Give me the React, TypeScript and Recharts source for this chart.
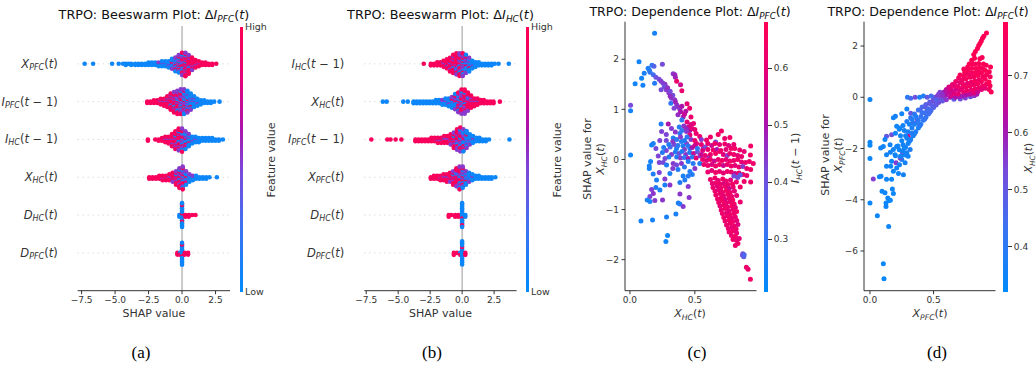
import React from "react";
import { ScatterChart, Scatter, XAxis, YAxis, CartesianGrid } from "recharts";

const FONT = "'DejaVu Sans', sans-serif";
const INK = "#333";

// shap red_blue colour map, low -> high
const CMAP_STOPS: [number, number, number, number][] = [
  [0, 0, 139, 251],
  [0.25, 62, 113, 240],
  [0.45, 120, 74, 218],
  [0.62, 172, 18, 172],
  [0.8, 226, 0, 122],
  [1, 255, 0, 82],
];

function cmap(t: number) {
  const u = Math.max(0, Math.min(1, t));
  for (let i = 1; i < CMAP_STOPS.length; i++) {
    const [p1, r1, g1, b1] = CMAP_STOPS[i];
    const [p0, r0, g0, b0] = CMAP_STOPS[i - 1];
    if (u <= p1) {
      const f = (u - p0) / (p1 - p0);
      return `rgb(${Math.round(r0 + (r1 - r0) * f)},${Math.round(g0 + (g1 - g0) * f)},${Math.round(b0 + (b1 - b0) * f)})`;
    }
  }
  return "rgb(255,0,82)";
}
const GRADIENT = `linear-gradient(to top, ${CMAP_STOPS.map(([p, r, g, b]) => `rgb(${r},${g},${b}) ${p * 100}%`).join(", ")})`;

/* ---------- data ---------- */

type Lab = [string, string, string]; // symbol, subscript, argument
type Bin = [number, number, number, number]; // shap value, n low, n mid, n high feature value

const ROWS_A: Lab[] = [["X", "PFC", "t"], ["I", "PFC", "t-1"], ["I", "HC", "t-1"], ["X", "HC", "t"], ["D", "HC", "t"], ["D", "PFC", "t"]];
const ROWS_B: Lab[] = [["I", "HC", "t-1"], ["X", "HC", "t"], ["I", "PFC", "t-1"], ["X", "PFC", "t"], ["D", "HC", "t"], ["D", "PFC", "t"]];

const A_XPFC: Bin[] = [
  [-7.27, 1, 0, 0], [-6.64, 1, 0, 0], [-5.22, 1, 0, 0], [-4.73, 1, 0, 0], [-4.4, 1, 0, 0], [-4.2, 2, 0, 0], [-4.0, 1, 0, 0],
  [-3.8, 2, 0, 0], [-3.5, 2, 0, 0], [-3.25, 2, 0, 0], [-3.0, 2, 0, 0], [-2.75, 2, 0, 0], [-2.5, 3, 0, 0], [-2.25, 3, 0, 0],
  [-2.0, 3, 0, 0], [-1.75, 3, 1, 0], [-1.5, 4, 1, 0], [-1.25, 4, 1, 0], [-1.0, 5, 1, 0], [-0.75, 6, 2, 1], [-0.5, 6, 4, 2],
  [-0.25, 5, 6, 4], [0.0, 4, 7, 8], [0.25, 2, 6, 12], [0.5, 1, 4, 11], [0.75, 0, 3, 8], [1.0, 0, 1, 6], [1.25, 0, 1, 4],
  [1.5, 0, 0, 3], [1.75, 0, 0, 3], [2.0, 0, 0, 2], [2.25, 0, 0, 2], [2.55, 0, 0, 1],
];
const A_IPFC: Bin[] = [
  [-2.6, 0, 0, 2], [-2.35, 0, 0, 2], [-2.1, 0, 0, 3], [-1.85, 0, 0, 3], [-1.6, 0, 1, 4], [-1.35, 0, 1, 5], [-1.1, 0, 2, 7],
  [-0.85, 1, 3, 9], [-0.6, 1, 5, 10], [-0.35, 2, 7, 9], [-0.1, 4, 8, 7], [0.15, 7, 8, 4], [0.4, 9, 6, 2], [0.65, 9, 3, 1],
  [0.9, 7, 2, 0], [1.15, 5, 1, 0], [1.4, 4, 0, 0], [1.65, 3, 0, 0], [1.9, 2, 0, 0], [2.15, 2, 0, 0], [2.4, 1, 0, 0], [2.8, 1, 0, 0],
];
const A_IHC: Bin[] = [
  [-2.55, 0, 0, 2], [-2.0, 0, 0, 1], [-1.75, 0, 0, 2], [-1.5, 0, 0, 3], [-1.25, 0, 1, 4], [-1.0, 0, 1, 5], [-0.75, 0, 2, 8],
  [-0.5, 1, 3, 10], [-0.25, 2, 5, 10], [0.0, 4, 7, 7], [0.25, 6, 5, 3], [0.5, 6, 3, 1], [0.75, 5, 1, 0], [1.0, 4, 1, 0],
  [1.25, 4, 0, 0], [1.5, 3, 0, 0], [1.75, 3, 0, 0], [2.0, 3, 0, 0], [2.25, 3, 0, 0], [2.5, 2, 0, 0], [2.75, 2, 0, 0], [3.05, 1, 0, 0],
];
const A_XHC: Bin[] = [
  [-2.45, 0, 0, 2], [-2.2, 0, 0, 2], [-1.95, 0, 0, 2], [-1.7, 0, 0, 3], [-1.45, 0, 1, 3], [-1.2, 0, 1, 3], [-0.95, 0, 1, 4],
  [-0.7, 0, 2, 5], [-0.45, 1, 3, 6], [-0.2, 2, 5, 7], [0.05, 4, 6, 6], [0.3, 5, 3, 2], [0.55, 4, 2, 0], [0.8, 3, 1, 0],
  [1.05, 3, 0, 0], [1.3, 2, 0, 0], [1.55, 2, 0, 0], [1.8, 2, 0, 0], [2.05, 1, 0, 0], [2.6, 1, 0, 0],
];
const A_DHC: Bin[] = [[-0.2, 2, 0, 0], [0.0, 12, 0, 3], [0.25, 0, 0, 2], [0.5, 0, 0, 2], [0.75, 0, 0, 1], [1.0, 0, 0, 1]];
const A_DPFC: Bin[] = [[-0.35, 0, 0, 2], [-0.15, 1, 0, 1], [0.0, 12, 0, 2], [0.2, 0, 0, 2], [0.45, 0, 0, 2]];

const B_IHC: Bin[] = [
  [-3.0, 0, 0, 1], [-2.45, 0, 0, 2], [-2.2, 0, 0, 2], [-1.95, 0, 0, 3], [-1.7, 0, 0, 3], [-1.45, 0, 1, 4], [-1.2, 0, 1, 6],
  [-0.95, 0, 2, 8], [-0.7, 1, 3, 9], [-0.45, 1, 4, 10], [-0.2, 2, 6, 8], [0.05, 4, 7, 5], [0.3, 6, 5, 2], [0.55, 6, 3, 1],
  [0.8, 5, 1, 0], [1.05, 4, 0, 0], [1.3, 3, 0, 0], [1.55, 2, 0, 0], [1.8, 2, 0, 0], [2.05, 2, 0, 0], [2.3, 2, 0, 0],
  [2.55, 1, 0, 0], [2.85, 1, 0, 0], [3.65, 1, 0, 0],
];
const B_XHC: Bin[] = [
  [-6.2, 1, 0, 0], [-5.9, 1, 0, 0], [-4.6, 1, 0, 0], [-4.25, 1, 0, 0], [-3.8, 2, 0, 0], [-3.55, 2, 0, 0], [-3.3, 2, 0, 0],
  [-3.05, 2, 0, 0], [-2.8, 2, 0, 0], [-2.55, 2, 0, 0], [-2.3, 2, 0, 0], [-2.05, 3, 0, 0], [-1.8, 3, 0, 0], [-1.55, 3, 1, 0],
  [-1.3, 4, 1, 0], [-1.05, 5, 1, 0], [-0.8, 5, 2, 1], [-0.55, 5, 4, 2], [-0.3, 4, 6, 4], [-0.05, 3, 7, 7], [0.2, 2, 6, 9],
  [0.45, 1, 4, 8], [0.7, 0, 2, 7], [0.95, 0, 1, 5], [1.2, 0, 1, 4], [1.45, 0, 0, 3], [1.7, 0, 0, 3], [1.95, 0, 0, 2],
  [2.2, 0, 0, 2], [2.45, 0, 0, 2], [2.95, 0, 0, 1],
];
const B_IPFC: Bin[] = [
  [-7.1, 0, 0, 1], [-5.85, 0, 0, 1], [-5.6, 0, 0, 1], [-5.2, 0, 0, 1], [-4.75, 0, 0, 1], [-3.65, 0, 0, 2], [-3.4, 0, 0, 2],
  [-3.15, 0, 0, 2], [-2.9, 0, 0, 2], [-2.65, 0, 0, 2], [-2.4, 0, 0, 3], [-2.15, 0, 0, 3], [-1.9, 0, 1, 3], [-1.65, 0, 1, 3],
  [-1.4, 0, 1, 4], [-1.15, 0, 1, 4], [-0.9, 0, 2, 5], [-0.65, 1, 3, 6], [-0.4, 1, 5, 7], [-0.15, 3, 6, 6], [0.1, 6, 5, 3],
  [0.35, 7, 3, 1], [0.6, 5, 2, 0], [0.85, 4, 1, 0], [1.1, 3, 0, 0], [1.35, 3, 0, 0], [1.6, 2, 0, 0], [1.85, 2, 0, 0],
  [2.1, 1, 0, 0], [3.7, 1, 0, 0],
];
const B_XPFC: Bin[] = [
  [-2.45, 0, 0, 2], [-2.2, 0, 0, 3], [-1.95, 0, 0, 3], [-1.7, 0, 1, 3], [-1.45, 0, 1, 4], [-1.2, 0, 1, 5], [-0.95, 0, 2, 5],
  [-0.7, 1, 3, 6], [-0.45, 1, 4, 8], [-0.2, 3, 6, 7], [0.05, 5, 6, 4], [0.3, 6, 3, 1], [0.55, 5, 2, 0], [0.8, 4, 1, 0],
  [1.05, 3, 0, 0], [1.3, 3, 0, 0], [1.55, 2, 0, 0], [1.8, 2, 0, 0], [2.05, 2, 0, 0], [2.3, 2, 0, 0], [2.6, 1, 0, 0],
];
const B_DHC: Bin[] = [[-1.05, 0, 0, 2], [-0.85, 0, 0, 1], [-0.55, 0, 0, 2], [-0.3, 0, 0, 2], [0.0, 13, 0, 2], [0.25, 2, 0, 0]];
const B_DPFC: Bin[] = [[-0.65, 0, 0, 2], [-0.4, 0, 0, 1], [-0.15, 1, 0, 1], [0.0, 12, 0, 1], [0.25, 0, 0, 2]];

const SWARM_A = [A_XPFC, A_IPFC, A_IHC, A_XHC, A_DHC, A_DPFC];
const SWARM_B = [B_IHC, B_XHC, B_IPFC, B_XPFC, B_DHC, B_DPFC];

// (c) x = X_HC(t), y = SHAP value, v = I_HC(t-1)
const C_POINTS: [number, number, number][] = [
  [0.19, 2.52, 0.25], [0.07, 1.95, 0.24], [0.04, 1.51, 0.24], [0.1, 1.48, 0.25], [0.09, 1.62, 0.24], [0.11, 1.72, 0.26],
  [0.14, 1.82, 0.27], [0.15, 1.78, 0.26], [0.17, 1.88, 0.3], [0.185, 1.86, 0.36], [0.25, 1.9, 0.42], [0.155, 1.74, 0.3],
  [0.18, 1.69, 0.33], [0.2, 1.64, 0.4], [0.225, 1.6, 0.42], [0.19, 1.52, 0.28], [0.255, 1.52, 0.42], [0.24, 1.56, 0.44],
  [0.27, 1.5, 0.45], [0.333, 1.71, 0.45], [0.346, 1.69, 0.47], [0.35, 1.64, 0.48], [0.36, 1.56, 0.62], [0.39, 1.49, 0.55],
  [0.24, 1.39, 0.42], [0.265, 1.45, 0.4], [0.28, 1.39, 0.44], [0.29, 1.43, 0.46], [0.3, 1.33, 0.45], [0.31, 1.36, 0.42],
  [0.4, 1.37, 0.62], [0.32, 1.22, 0.44], [0.33, 1.28, 0.42], [0.31, 1.26, 0.46], [0.345, 1.19, 0.45], [0.36, 1.09, 0.45],
  [0.315, 1.12, 0.3], [0.35, 1.15, 0.48], [0.37, 1.05, 0.46], [0.34, 1.02, 0.43], [0.44, 1.11, 0.6], [0.385, 1.0, 0.45],
  [0.46, 1.02, 0.62], [0.4, 1.06, 0.5], [0.005, 1.08, 0.42], [0.005, 0.97, 0.25], [0.37, 0.89, 0.46], [0.39, 0.95, 0.5],
  [0.41, 0.85, 0.48], [0.42, 0.9, 0.55], [0.43, 0.96, 0.52], [0.47, 0.85, 0.62], [0.44, 0.75, 0.6], [0.4, 0.79, 0.3],
  [0.38, 0.65, 0.28], [0.415, 0.67, 0.45], [0.49, 0.72, 0.62], [0.5, 0.6, 0.62], [0.45, 0.65, 0.55], [0.51, 0.52, 0.62],
  [0.46, 0.58, 0.5], [0.43, 0.62, 0.47], [0.47, 0.7, 0.58], [0.48, 0.62, 0.6],
  [0.24, 0.71, 0.28], [0.295, 0.71, 0.5], [0.32, 0.62, 0.44], [0.244, 0.56, 0.43], [0.385, 0.52, 0.28], [0.436, 0.56, 0.45],
  [0.462, 0.49, 0.6], [0.538, 0.46, 0.62], [0.23, 0.38, 0.43], [0.28, 0.38, 0.42], [0.333, 0.43, 0.27], [0.397, 0.36, 0.27],
  [0.436, 0.32, 0.44], [0.513, 0.32, 0.6], [0.59, 0.39, 0.63], [0.167, 0.29, 0.25], [0.18, 0.32, 0.26], [0.31, 0.25, 0.35],
  [0.359, 0.22, 0.26], [0.462, 0.22, 0.27], [0.564, 0.22, 0.45], [0.218, 0.07, 0.43], [0.005, 0.09, 0.24], [0.3, 0.3, 0.27],
  [0.34, 0.3, 0.42], [0.37, 0.28, 0.3], [0.41, 0.27, 0.26], [0.42, 0.2, 0.44], [0.45, 0.27, 0.29], [0.48, 0.24, 0.5],
  [0.5, 0.28, 0.55], [0.35, 0.15, 0.27], [0.38, 0.12, 0.42], [0.4, 0.16, 0.27], [0.43, 0.1, 0.45], [0.46, 0.14, 0.28],
  [0.49, 0.12, 0.55], [0.52, 0.15, 0.4], [0.28, 0.18, 0.43], [0.26, 0.24, 0.27], [0.32, 0.1, 0.44], [0.3, 0.05, 0.27],
  [0.27, 0.02, 0.42], [0.36, 0.05, 0.28], [0.39, 0.03, 0.44], [0.42, 0.04, 0.3], [0.45, 0.02, 0.5], [0.48, 0.05, 0.28],
  [0.51, 0.03, 0.6], [0.54, 0.07, 0.45], [0.33, 0.36, 0.45], [0.36, 0.4, 0.3], [0.39, 0.45, 0.44], [0.42, 0.38, 0.27],
  [0.47, 0.4, 0.45], [0.5, 0.38, 0.62], [0.2, 0.22, 0.42], [0.25, 0.14, 0.28], [0.44, 0.45, 0.3], [0.28, 0.5, 0.43],
  [0.4, 0.58, 0.3], [0.35, 0.55, 0.45], [0.52, 0.22, 0.3], [0.55, 0.4, 0.45], [0.58, 0.25, 0.42], [0.61, 0.05, 0.45],
  [0.66, 0.35, 0.42],
  [0.159, -0.04, 0.25], [0.149, -0.13, 0.25], [0.149, -0.18, 0.25], [0.179, -0.29, 0.27], [0.226, -0.06, 0.43],
  [0.256, -0.06, 0.42], [0.282, -0.11, 0.27], [0.333, -0.08, 0.44], [0.359, -0.11, 0.42], [0.397, -0.08, 0.45],
  [0.449, -0.04, 0.27], [0.487, -0.08, 0.28], [0.538, -0.08, 0.27], [0.226, -0.26, 0.43], [0.308, -0.28, 0.26],
  [0.269, -0.39, 0.44], [0.205, -0.41, 0.26], [0.2, -0.56, 0.27], [0.167, -0.6, 0.44], [0.231, -0.61, 0.26],
  [0.269, -0.51, 0.26], [0.308, -0.51, 0.45], [0.385, -0.46, 0.27], [0.423, -0.41, 0.27], [0.449, -0.33, 0.28],
  [0.462, -0.24, 0.27], [0.41, -0.33, 0.26], [0.449, -0.54, 0.44], [0.385, -0.69, 0.45], [0.456, -0.76, 0.45],
  [0.18, -0.68, 0.45], [0.154, -0.74, 0.43], [0.133, -0.81, 0.26], [0.154, -0.84, 0.25], [0.192, -0.82, 0.44],
  [0.251, -0.81, 0.45], [0.372, -0.87, 0.26], [0.385, -0.89, 0.27], [0.41, -0.94, 0.44], [0.354, -1.09, 0.26],
  [0.282, -1.15, 0.26], [0.085, -1.23, 0.25], [0.174, -1.21, 0.25], [0.29, -1.52, 0.24], [0.277, -1.64, 0.24],
  [0.37, -0.2, 0.27], [0.33, -0.18, 0.44], [0.42, -0.15, 0.3], [0.5, -0.18, 0.45], [0.48, -0.3, 0.27],
  [0.62, 0.45, 0.63], [0.68, 0.5, 0.64], [0.705, 0.57, 0.63], [0.73, 0.42, 0.62], [0.77, 0.44, 0.64],
  [0.55, 0.3, 0.6], [0.6, 0.32, 0.62], [0.63, 0.28, 0.55], [0.654, 0.32, 0.63], [0.69, 0.3, 0.6], [0.731, 0.31, 0.63],
  [0.76, 0.28, 0.58], [0.8, 0.3, 0.62], [0.93, 0.27, 0.64],
  [0.56, 0.18, 0.58], [0.6, 0.2, 0.62], [0.641, 0.19, 0.64], [0.67, 0.2, 0.5], [0.7, 0.18, 0.62], [0.74, 0.2, 0.6],
  [0.78, 0.22, 0.63], [0.808, 0.22, 0.64], [0.846, 0.19, 0.63], [0.88, 0.16, 0.6],
  [0.55, 0.1, 0.55], [0.58, 0.08, 0.6], [0.62, 0.1, 0.62], [0.66, 0.12, 0.64], [0.692, 0.16, 0.63], [0.72, 0.1, 0.6],
  [0.75, 0.08, 0.45], [0.769, 0.12, 0.62], [0.8, 0.1, 0.63], [0.83, 0.08, 0.6], [0.86, 0.06, 0.62], [0.928, 0.09, 0.64],
  [0.56, 0.0, 0.62], [0.59, -0.02, 0.6], [0.62, 0.0, 0.63], [0.65, -0.03, 0.55], [0.68, 0.0, 0.62], [0.71, -0.02, 0.64],
  [0.74, 0.0, 0.6], [0.77, -0.03, 0.63], [0.8, -0.02, 0.62], [0.83, 0.0, 0.64], [0.86, -0.05, 0.6], [0.89, -0.06, 0.62],
  [0.92, -0.04, 0.63], [0.95, -0.08, 0.62],
  [0.57, -0.1, 0.62], [0.6, -0.12, 0.63], [0.63, -0.1, 0.58], [0.66, -0.13, 0.62], [0.69, -0.1, 0.64], [0.72, -0.12, 0.55],
  [0.75, -0.1, 0.62], [0.78, -0.13, 0.63], [0.81, -0.12, 0.6], [0.84, -0.15, 0.62], [0.87, -0.14, 0.45], [0.9, -0.18, 0.62],
  [0.93, -0.2, 0.63],
  [0.6, -0.25, 0.62], [0.63, -0.22, 0.6], [0.66, -0.26, 0.64], [0.69, -0.24, 0.62], [0.72, -0.27, 0.6], [0.75, -0.24, 0.63],
  [0.78, -0.25, 0.62], [0.81, -0.28, 0.55], [0.84, -0.27, 0.62], [0.87, -0.3, 0.63], [0.9, -0.32, 0.62],
  [0.8, -0.33, 0.42], [0.83, -0.36, 0.4], [0.85, -0.31, 0.38], [0.93, -0.45, 0.62],
  [0.62, -0.4, 0.62], [0.655, -0.37, 0.63], [0.68, -0.42, 0.6], [0.715, -0.39, 0.64], [0.74, -0.43, 0.62], [0.775, -0.41, 0.6],
  [0.82, -0.45, 0.62], [0.88, -0.44, 0.63],
  [0.635, -0.48, 0.6], [0.662, -0.47, 0.62], [0.694, -0.49, 0.63], [0.722, -0.48, 0.58], [0.755, -0.5, 0.62], [0.79, -0.49, 0.64],
  [0.64, -0.56, 0.62], [0.674, -0.53, 0.6], [0.7, -0.57, 0.63], [0.735, -0.54, 0.62], [0.764, -0.58, 0.55], [0.795, -0.55, 0.62],
  [0.85, -0.55, 0.64],
  [0.655, -0.63, 0.62], [0.682, -0.61, 0.6], [0.714, -0.65, 0.63], [0.743, -0.62, 0.64], [0.772, -0.66, 0.62], [0.805, -0.63, 0.6],
  [0.662, -0.71, 0.63], [0.694, -0.68, 0.62], [0.72, -0.73, 0.6], [0.753, -0.7, 0.64], [0.784, -0.74, 0.62], [0.822, -0.72, 0.6],
  [0.675, -0.79, 0.62], [0.703, -0.77, 0.63], [0.732, -0.8, 0.58], [0.764, -0.78, 0.62], [0.792, -0.81, 0.64],
  [0.684, -0.86, 0.62], [0.713, -0.83, 0.64], [0.742, -0.87, 0.6], [0.774, -0.85, 0.62], [0.803, -0.89, 0.63], [0.85, -0.85, 0.62],
  [0.694, -0.93, 0.6], [0.724, -0.91, 0.63], [0.752, -0.95, 0.62], [0.785, -0.93, 0.64], [0.812, -0.96, 0.6],
  [0.703, -1.01, 0.62], [0.733, -0.98, 0.63], [0.762, -1.03, 0.6], [0.793, -1.0, 0.62], [0.822, -1.04, 0.64],
  [0.712, -1.08, 0.62], [0.744, -1.07, 0.6], [0.772, -1.1, 0.63], [0.803, -1.08, 0.62],
  [0.723, -1.16, 0.63], [0.752, -1.13, 0.62], [0.783, -1.17, 0.6], [0.812, -1.15, 0.62],
  [0.733, -1.23, 0.62], [0.764, -1.21, 0.64], [0.792, -1.24, 0.62], [0.823, -1.22, 0.6],
  [0.744, -1.31, 0.62], [0.773, -1.28, 0.63], [0.803, -1.33, 0.64], [0.832, -1.3, 0.58],
  [0.758, -1.38, 0.62], [0.788, -1.36, 0.6], [0.818, -1.39, 0.63],
  [0.764, -1.45, 0.62], [0.792, -1.43, 0.63], [0.822, -1.47, 0.6], [0.782, -1.52, 0.62], [0.812, -1.54, 0.64],
  [0.794, -1.6, 0.63], [0.822, -1.62, 0.62], [0.842, -1.58, 0.6], [0.812, -1.72, 0.62], [0.832, -1.68, 0.63],
  [0.867, -1.91, 0.4], [0.877, -1.94, 0.38], [0.87, -1.88, 0.42], [0.88, -1.9, 0.35],
  [0.897, -2.15, 0.63], [0.91, -2.19, 0.62], [0.928, -2.39, 0.64],
];

// (d) x = X_PFC(t), y = SHAP value, v = X_HC(t)
const D_POINTS: [number, number, number][] = [
  [0.0, -0.09, 0.35], [0.0, -1.76, 0.34], [0.0, -1.87, 0.34], [0.0, -2.39, 0.34], [0.0, -4.13, 0.34],
  [0.058, -4.62, 0.34], [0.105, -6.5, 0.34], [0.11, -7.08, 0.34], [0.147, -5.04, 0.35],
  [0.026, -3.19, 0.55], [0.074, -3.1, 0.35], [0.087, -3.08, 0.35], [0.095, -3.67, 0.34], [0.118, -3.73, 0.35],
  [0.176, -3.58, 0.35], [0.184, -3.76, 0.34], [0.14, -3.93, 0.35], [0.15, -4.03, 0.35], [0.16, -4.02, 0.34],
  [0.126, -4.13, 0.34], [0.126, -4.26, 0.35],
  [0.13, -3.2, 0.35], [0.17, -3.2, 0.34], [0.13, -2.24, 0.35], [0.16, -2.15, 0.36], [0.2, -2.28, 0.35], [0.17, -2.5, 0.34],
  [0.13, -2.69, 0.35], [0.163, -2.69, 0.35], [0.205, -2.56, 0.55], [0.21, -2.76, 0.35], [0.184, -2.89, 0.34],
  [0.224, -2.98, 0.35], [0.263, -3.02, 0.36], [0.232, -2.63, 0.36], [0.25, -2.43, 0.37], [0.276, -2.56, 0.36],
  [0.237, -2.37, 0.52], [0.263, -2.24, 0.38], [0.29, -2.17, 0.37], [0.316, -2.04, 0.38], [0.3, -2.3, 0.36],
  [0.184, -0.8, 0.35], [0.2, -0.74, 0.36], [0.25, -0.64, 0.35], [0.29, -0.46, 0.36], [0.32, -0.62, 0.5], [0.295, 0.0, 0.4],
  [0.32, -0.04, 0.45], [0.355, 0.0, 0.52], [0.39, 0.0, 0.37], [0.42, 0.05, 0.38], [0.45, 0.0, 0.5], [0.237, -1.2, 0.35],
  [0.21, -1.13, 0.35], [0.17, -1.46, 0.52], [0.13, -1.52, 0.5], [0.118, -1.65, 0.35], [0.105, -1.92, 0.35],
  [0.084, -1.98, 0.35], [0.158, -1.85, 0.35], [0.184, -2.04, 0.35], [0.21, -1.92, 0.36], [0.197, -2.24, 0.35],
  [0.255, -2.15, 0.5], [0.3, -1.52, 0.7], [0.34, -1.0, 0.5], [0.37, -0.87, 0.52], [0.33, -0.87, 0.36], [0.395, -0.5, 0.5],
  [0.43, -0.37, 0.52], [0.47, -0.24, 0.52], [0.5, -0.15, 0.55],
  [0.24, -2.3, 0.35], [0.26, -2.1, 0.35], [0.27, -1.98, 0.36], [0.28, -1.95, 0.35], [0.3, -1.8, 0.36], [0.31, -1.72, 0.35],
  [0.32, -1.65, 0.37], [0.34, -1.5, 0.36], [0.35, -1.42, 0.37], [0.36, -1.35, 0.38], [0.38, -1.2, 0.37], [0.39, -1.12, 0.38],
  [0.4, -1.05, 0.4], [0.42, -0.9, 0.4], [0.43, -0.85, 0.42], [0.44, -0.78, 0.42], [0.46, -0.65, 0.44], [0.47, -0.58, 0.45],
  [0.48, -0.52, 0.45], [0.5, -0.4, 0.47], [0.52, -0.3, 0.5], [0.54, -0.2, 0.52],
  [0.22, -1.9, 0.35], [0.25, -1.7, 0.35], [0.28, -1.5, 0.36], [0.3, -1.35, 0.37], [0.33, -1.2, 0.38], [0.35, -1.05, 0.37],
  [0.38, -0.9, 0.4], [0.4, -0.75, 0.42], [0.43, -0.6, 0.44], [0.46, -0.45, 0.46], [0.49, -0.32, 0.48], [0.52, -0.18, 0.5],
  [0.2, -1.4, 0.35], [0.23, -1.25, 0.35], [0.26, -1.1, 0.36], [0.29, -0.95, 0.38], [0.32, -0.8, 0.4], [0.35, -0.65, 0.42],
  [0.38, -0.5, 0.44], [0.41, -0.38, 0.46], [0.44, -0.28, 0.48], [0.47, -0.18, 0.5], [0.5, -0.08, 0.52],
  [0.27, -1.3, 0.36], [0.24, -1.5, 0.35], [0.29, -1.6, 0.36], [0.33, -1.4, 0.38], [0.37, -1.0, 0.4], [0.41, -0.6, 0.43],
  [0.45, -0.5, 0.45], [0.36, -0.75, 0.38], [0.31, -1.05, 0.36], [0.26, -1.85, 0.36], [0.23, -2.05, 0.35], [0.28, -2.25, 0.36],
  [0.5, 0.0, 0.5], [0.53, 0.05, 0.55], [0.55, -0.05, 0.52], [0.56, 0.1, 0.58], [0.58, 0.0, 0.56], [0.58, 0.2, 0.6],
  [0.6, 0.1, 0.62], [0.6, 0.3, 0.64], [0.62, 0.2, 0.66], [0.62, 0.4, 0.68], [0.64, 0.3, 0.68], [0.55, 0.2, 0.55],
  [0.57, -0.15, 0.5], [0.6, -0.1, 0.56], [0.63, 0.0, 0.6], [0.52, -0.1, 0.48], [0.48, 0.05, 0.45], [0.54, 0.12, 0.55],
  [0.57, 0.1, 0.57],
  [0.66, -0.08, 0.5], [0.71, -0.07, 0.52], [0.75, -0.03, 0.55], [0.79, 0.02, 0.52], [0.82, 0.06, 0.56], [0.84, 0.12, 0.6],
  [0.638, 0.05, 0.68], [0.646, 0.2, 0.66], [0.634, 0.35, 0.7], [0.648, 0.5, 0.72],
  [0.672, 0.0, 0.62], [0.664, 0.15, 0.7], [0.677, 0.3, 0.68], [0.667, 0.45, 0.72], [0.674, 0.62, 0.74],
  [0.702, 0.02, 0.6], [0.696, 0.13, 0.72], [0.706, 0.28, 0.7], [0.694, 0.42, 0.74], [0.707, 0.58, 0.72], [0.697, 0.75, 0.76], [0.708, 0.87, 0.78],
  [0.727, 0.05, 0.6], [0.736, 0.21, 0.74], [0.725, 0.35, 0.72], [0.734, 0.5, 0.75], [0.726, 0.66, 0.74], [0.737, 0.82, 0.76],
  [0.744, 0.97, 0.78], [0.738, 1.1, 0.78],
  [0.757, 0.1, 0.62], [0.764, 0.25, 0.74], [0.754, 0.4, 0.76], [0.766, 0.55, 0.72], [0.756, 0.72, 0.77], [0.765, 0.9, 0.76],
  [0.771, 1.06, 0.78], [0.768, 1.18, 0.77], [0.78, 1.3, 0.79],
  [0.787, 0.12, 0.65], [0.795, 0.28, 0.73], [0.786, 0.44, 0.76], [0.797, 0.6, 0.74], [0.788, 0.78, 0.77], [0.796, 0.95, 0.75],
  [0.8, 1.12, 0.78], [0.806, 1.28, 0.77], [0.8, 1.45, 0.79],
  [0.817, 0.17, 0.7], [0.826, 0.32, 0.76], [0.816, 0.48, 0.74], [0.825, 0.64, 0.77], [0.817, 0.8, 0.76], [0.826, 0.96, 0.78],
  [0.833, 1.12, 0.78], [0.828, 1.3, 0.78], [0.822, 1.52, 0.79], [0.816, 1.67, 0.79], [0.829, 1.79, 0.79],
  [0.847, 0.22, 0.66], [0.855, 0.36, 0.74], [0.846, 0.52, 0.77], [0.856, 0.68, 0.75], [0.848, 0.85, 0.78], [0.857, 1.0, 0.76],
  [0.862, 1.16, 0.79], [0.855, 1.32, 0.78], [0.864, 1.5, 0.79], [0.845, 1.9, 0.79], [0.855, 2.02, 0.79],
  [0.877, 0.3, 0.7], [0.885, 0.45, 0.75], [0.876, 0.62, 0.77], [0.886, 0.8, 0.76], [0.877, 0.95, 0.78], [0.886, 1.12, 0.77],
  [0.892, 1.3, 0.79], [0.882, 1.55, 0.78], [0.865, 2.1, 0.79], [0.875, 2.2, 0.79], [0.885, 2.3, 0.79],
  [0.907, 0.35, 0.72], [0.915, 0.52, 0.76], [0.906, 0.7, 0.78], [0.916, 0.88, 0.77], [0.907, 1.05, 0.79], [0.914, 1.25, 0.78],
  [0.895, 2.38, 0.79], [0.916, 2.51, 0.79],
  [0.937, 0.3, 0.76], [0.944, 0.45, 0.78], [0.936, 0.6, 0.79], [0.945, 0.8, 0.77], [0.938, 1.0, 0.78], [0.948, 1.18, 0.79],
  [0.953, 0.21, 0.79],
];

const BEE_TICKS = [-7.5, -5, -2.5, 0, 2.5];
const ROW_TICKS = [1, 2, 3, 4, 5, 6];
const C_YTICKS = [-2, -1, 0, 1, 2];
const D_YTICKS = [-6, -4, -2, 0, 2];
const DEP_XTICKS = [0, 0.5];
const C_CBAR_TICKS = [0.3, 0.4, 0.5, 0.6];
const D_CBAR_TICKS = [0.4, 0.5, 0.6, 0.7];

/* ---------- helpers ---------- */

// shap beeswarm stacking: points in a bin alternate above / below the row
function swarm(rows: Bin[][]) {
  const levels = [0.05, 0.5, 0.95];
  const pts: { x: number; y: number; v: number }[] = [];
  rows.forEach((bins, r) => {
    const maxN = Math.max(...bins.map((b) => b[1] + b[2] + b[3]));
    const maxLayer = Math.ceil((maxN - 1) / 2);
    const step = 0.36 / (maxLayer + 1);
    bins.forEach(([x, ...counts]) => {
      const items: { k: number; c: number }[] = [];
      counts.forEach((n, c) => {
        for (let i = 0; i < n; i++) items.push({ k: (i + 0.5) / n, c });
      });
      items.sort((a, b) => a.k - b.k || a.c - b.c);
      items.forEach((it, layer) => {
        const off = Math.ceil(layer / 2) * (layer % 2 ? 1 : -1);
        pts.push({ x, y: r + 1 + off * step, v: levels[it.c] });
      });
    });
  });
  return pts;
}

const fmt = (d: number) => (v: number) => v.toFixed(d).replace("-", "\u2212");

const dot = (r: number, lo: number, hi: number) => (p: any) =>
  <circle cx={p.cx} cy={p.cy} r={r} fill={cmap((p.payload.v - lo) / (hi - lo))} />;

function MathSpan({ l, delta }: { l: Lab; delta?: boolean }) {
  const [b, s, a] = l;
  return (
    <span>
      {delta ? "\u0394" : null}
      <i>{b}</i>
      <span style={{ fontSize: "0.7em", fontStyle: "italic", position: "relative", top: "0.35em" }}>{s}</span>
      (<i>t</i>{a.includes("1") ? " \u2212 1" : ""})
    </span>
  );
}

function RowTick(props: any) {
  const { x, y, payload, labels } = props;
  const [b, s, a] = labels[payload.value - 1] as Lab;
  return (
    <text x={x} y={y} textAnchor="end" dominantBaseline="central" fontFamily={FONT} fontSize={11.5} fill={INK}>
      <tspan fontStyle="italic">{b}</tspan>
      <tspan fontStyle="italic" fontSize={8} dy={3}>{s}</tspan>
      <tspan dy={-3}>(</tspan>
      <tspan fontStyle="italic">t</tspan>
      <tspan>{a.includes("1") ? " \u2212 1)" : ")"}</tspan>
    </text>
  );
}

const abs = (left: number, top: number, extra: React.CSSProperties = {}): React.CSSProperties => ({
  position: "absolute", left, top, whiteSpace: "nowrap", lineHeight: 1, ...extra,
});
const centered = (x: number, y: number, size: number, extra: React.CSSProperties = {}) =>
  abs(x, y, { transform: "translate(-50%, -50%)", fontSize: size, ...extra });
const rotated = (x: number, y: number, size: number) =>
  abs(x, y, { transform: "translate(-50%, -50%) rotate(-90deg)", fontSize: size });

const tickStyle = { fontSize: 9, fill: INK, fontFamily: FONT };

/* ---------- panels ---------- */

function Beeswarm({ left, plotLeft, domain, rows, labels }: { left: number; plotLeft: number; domain: [number, number]; rows: Bin[][]; labels: Lab[] }) {
  const data = swarm(rows);
  return (
    <div style={abs(left, 0)}>
      <ScatterChart width={240} height={321} margin={{ top: 26, right: 240 - (plotLeft - left) - 152.3, bottom: 0, left: 0 }}>
        <CartesianGrid horizontal vertical={false} horizontalValues={ROW_TICKS} stroke="#cccccc" strokeDasharray="1 4" />
        <CartesianGrid horizontal={false} vertical verticalValues={[0]} stroke="#999999" />
        <XAxis type="number" dataKey="x" domain={domain} allowDataOverflow ticks={BEE_TICKS} tickFormatter={fmt(1)}
          height={30.3} tickSize={3.5} tickMargin={2} stroke={INK} tick={tickStyle} interval={0} />
        <YAxis type="number" dataKey="y" domain={[0, 7]} reversed allowDataOverflow ticks={ROW_TICKS} interval={0}
          width={plotLeft - left} axisLine={false} tickLine={false} tickSize={0} tickMargin={20}
          tick={<RowTick labels={labels} />} />
        <Scatter data={data} isAnimationActive={false} shape={dot(2.3, 0, 1)} />
      </ScatterChart>
    </div>
  );
}

function Dependence({ left, xDomain, yDomain, yTicks, points, lo, hi }: { left: number; xDomain: [number, number]; yDomain: [number, number]; yTicks: number[]; points: [number, number, number][]; lo: number; hi: number }) {
  const data = points.map(([x, y, v]) => ({ x, y, v }));
  return (
    <div style={abs(left, 0)}>
      <ScatterChart width={170} height={321} margin={{ top: 21.7, right: 8.5, bottom: 0, left: 0 }}>
        <XAxis type="number" dataKey="x" domain={xDomain} allowDataOverflow ticks={DEP_XTICKS} tickFormatter={fmt(1)}
          height={30.3} tickSize={3.5} tickMargin={2} stroke={INK} tick={tickStyle} interval={0} />
        <YAxis type="number" dataKey="y" domain={yDomain} allowDataOverflow ticks={yTicks} tickFormatter={fmt(0)}
          width={30} tickSize={3.5} tickMargin={2.5} stroke={INK} tick={tickStyle} interval={0} />
        <Scatter data={data} isAnimationActive={false} shape={dot(2.5, lo, hi)} />
      </ScatterChart>
    </div>
  );
}

function ColorBar({ x, w, top, bottom, ticks, lo, hi }: { x: number; w: number; top: number; bottom: number; ticks?: number[]; lo?: number; hi?: number }) {
  const h = bottom - top;
  return (
    <>
      <div style={abs(x, top, { width: w, height: h, background: GRADIENT })} />
      {ticks && lo !== undefined && hi !== undefined
        ? ticks.map((t) => {
            const y = top + ((hi - t) / (hi - lo)) * h;
            return (
              <React.Fragment key={t}>
                <div style={abs(x + w, y - 0.5, { width: 3.5, height: 1, background: INK })} />
                <div style={abs(x + w + 5.5, y, { transform: "translateY(-50%)", fontSize: 9 })}>{t.toFixed(1)}</div>
              </React.Fragment>
            );
          })
        : null}
    </>
  );
}

export default function App() {
  const beeData: [number, number, [number, number], Bin[][], Lab[], Lab][] = [
    [0, 77.7, [-7.79, 3.58], SWARM_A, ROWS_A, ["I", "PFC", "t"]],
    [286, 364.3, [-7.65, 4.26], SWARM_B, ROWS_B, ["I", "HC", "t"]],
  ];
  return (
    <div style={{ position: "relative", width: 1036, height: 369, background: "#fff", overflow: "hidden", fontFamily: FONT, color: INK }}>
      <style>{"body{margin:0}"}</style>

      {beeData.map(([left, plotLeft, domain, rows, labels, target], i) => {
        const mid = plotLeft + 76.2;
        const cbx = i === 0 ? 240 : 526;
        return (
          <React.Fragment key={i}>
            <Beeswarm left={left} plotLeft={plotLeft} domain={domain} rows={rows} labels={labels} />
            <div style={centered(mid, 15, 12.8, { color: "#111" })}>TRPO: Beeswarm Plot: <MathSpan l={target} delta /></div>
            <div style={centered(mid, 313, 11)}>SHAP value</div>
            <ColorBar x={cbx} w={3} top={26.5} bottom={292} />
            <div style={abs(cbx + 5, 22, { fontSize: 9.5 })}>High</div>
            <div style={abs(cbx + 5, 287, { fontSize: 9.5 })}>Low</div>
            <div style={rotated(cbx + 31, 160, 11)}>Feature value</div>
          </React.Fragment>
        );
      })}

      <Dependence left={595} xDomain={[-0.038, 0.975]} yDomain={[-2.62, 2.75]} yTicks={C_YTICKS} points={C_POINTS} lo={0.208} hi={0.682} />
      <div style={centered(690, 12, 12.6, { color: "#111" })}>TRPO: Dependence Plot: <MathSpan l={["I", "PFC", "t"]} delta /></div>
      <div style={centered(690, 313, 11)}><MathSpan l={["X", "HC", "t"]} /></div>
      <div style={rotated(587, 159, 11)}>SHAP value for</div>
      <div style={rotated(600, 159, 11)}><MathSpan l={["X", "HC", "t"]} /></div>
      <ColorBar x={764} w={4.3} top={21.7} bottom={291.7} ticks={C_CBAR_TICKS} lo={0.208} hi={0.682} />
      <div style={rotated(795, 158, 11)}><MathSpan l={["I", "HC", "t-1"]} /></div>

      <Dependence left={834} xDomain={[-0.047, 0.987]} yDomain={[-7.55, 2.95]} yTicks={D_YTICKS} points={D_POINTS} lo={0.321} hi={0.795} />
      <div style={centered(928, 12, 12.6, { color: "#111" })}>TRPO: Dependence Plot: <MathSpan l={["I", "PFC", "t"]} delta /></div>
      <div style={centered(930, 313, 11)}><MathSpan l={["X", "PFC", "t"]} /></div>
      <div style={rotated(825, 155, 11)}>SHAP value for</div>
      <div style={rotated(838, 155, 11)}><MathSpan l={["X", "PFC", "t"]} /></div>
      <ColorBar x={1003.3} w={5} top={21.7} bottom={291.7} ticks={D_CBAR_TICKS} lo={0.321} hi={0.795} />
      <div style={rotated(1028, 158, 10.5)}><MathSpan l={["X", "HC", "t"]} /></div>

      {[["(a)", 141], ["(b)", 432], ["(c)", 697], ["(d)", 937]].map(([t, x]) => (
        <div key={t as string} style={centered(x as number, 352, 17, { fontFamily: "'Liberation Serif', serif", color: "#000" })}>{t}</div>
      ))}
    </div>
  );
}
